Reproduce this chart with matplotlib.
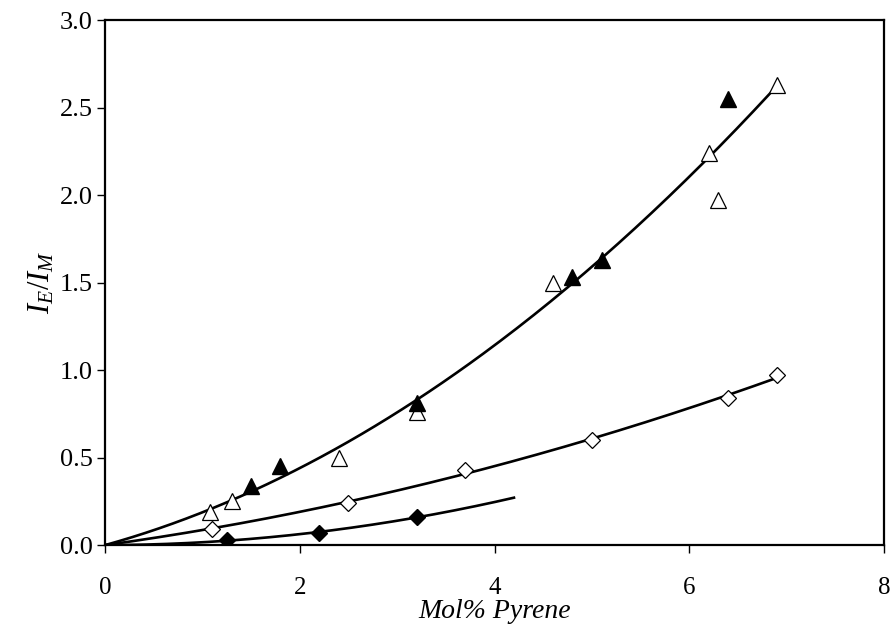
import numpy as np
import matplotlib.pyplot as plt

plt.rcParams['font.family'] = ['Liberation Serif', 'DejaVu Serif']
plt.rcParams['mathtext.fontset'] = 'custom'
plt.rcParams['mathtext.rm'] = 'Liberation Serif'
plt.rcParams['mathtext.it'] = 'Liberation Serif:italic'

# open triangles
tri_open_x = [1.08, 1.3, 2.4, 3.2, 4.6, 6.2, 6.3, 6.9]
tri_open_y = [0.19, 0.25, 0.50, 0.76, 1.50, 2.24, 1.97, 2.63]
# filled triangles
tri_fill_x = [1.5, 1.8, 3.2, 4.8, 5.1, 6.4]
tri_fill_y = [0.34, 0.45, 0.81, 1.53, 1.63, 2.55]
# open diamonds
dia_open_x = [1.1, 2.5, 3.7, 5.0, 6.4, 6.9]
dia_open_y = [0.09, 0.24, 0.43, 0.60, 0.84, 0.97]
# filled diamonds
dia_fill_x = [1.25, 2.2, 3.2]
dia_fill_y = [0.03, 0.07, 0.16]


def quad_fit(x, y):
    # second order trendline forced through the origin
    x = np.asarray(x, float)
    y = np.asarray(y, float)
    A = np.column_stack([x, x ** 2])
    coef, *_ = np.linalg.lstsq(A, y, rcond=None)
    return lambda t: coef[0] * t + coef[1] * t ** 2


fig = plt.figure(figsize=(8.91, 6.28), dpi=100)
ax = fig.add_axes([0.118, 0.132, 0.874, 0.836])

f_tri = quad_fit(tri_open_x + tri_fill_x, tri_open_y + tri_fill_y)
f_dia = quad_fit(dia_open_x, dia_open_y)
f_dfl = quad_fit(dia_fill_x, dia_fill_y)

t = np.linspace(0, max(tri_open_x), 200)
ax.plot(t, f_tri(t), color='black', lw=1.9, zorder=2)
t = np.linspace(0, max(dia_open_x), 200)
ax.plot(t, f_dia(t), color='black', lw=1.9, zorder=2)
t = np.linspace(0, 4.2, 200)
ax.plot(t, f_dfl(t), color='black', lw=1.9, zorder=2)

ax.plot(tri_open_x, tri_open_y, '^', ms=11, mfc='white', mec='black', mew=0.9, ls='none', zorder=3)
ax.plot(tri_fill_x, tri_fill_y, '^', ms=11, mfc='black', mec='black', ls='none', zorder=3)
ax.plot(dia_open_x, dia_open_y, 'D', ms=8, mfc='white', mec='black', mew=0.9, ls='none', zorder=3)
ax.plot(dia_fill_x, dia_fill_y, 'D', ms=8, mfc='black', mec='black', ls='none', zorder=3)

ax.set_xlim(0, 8)
ax.set_ylim(0, 3.0)
ax.set_xticks([0, 2, 4, 6, 8])
ax.set_yticks(np.arange(0, 3.01, 0.5))
ax.set_yticklabels([f'{v:.1f}' for v in np.arange(0, 3.01, 0.5)])
ax.tick_params(direction='out', length=6, width=1)
ax.tick_params(axis='y', labelsize=19, pad=3)
ax.tick_params(axis='x', labelsize=18, pad=17)
for s in ax.spines.values():
    s.set_linewidth(1.6)

ax.set_xlabel('Mol% Pyrene', fontsize=20, style='italic', labelpad=0)
ax.set_ylabel('$I_E/I_M$', fontsize=22, labelpad=2)

plt.savefig('out.png', dpi=100)
